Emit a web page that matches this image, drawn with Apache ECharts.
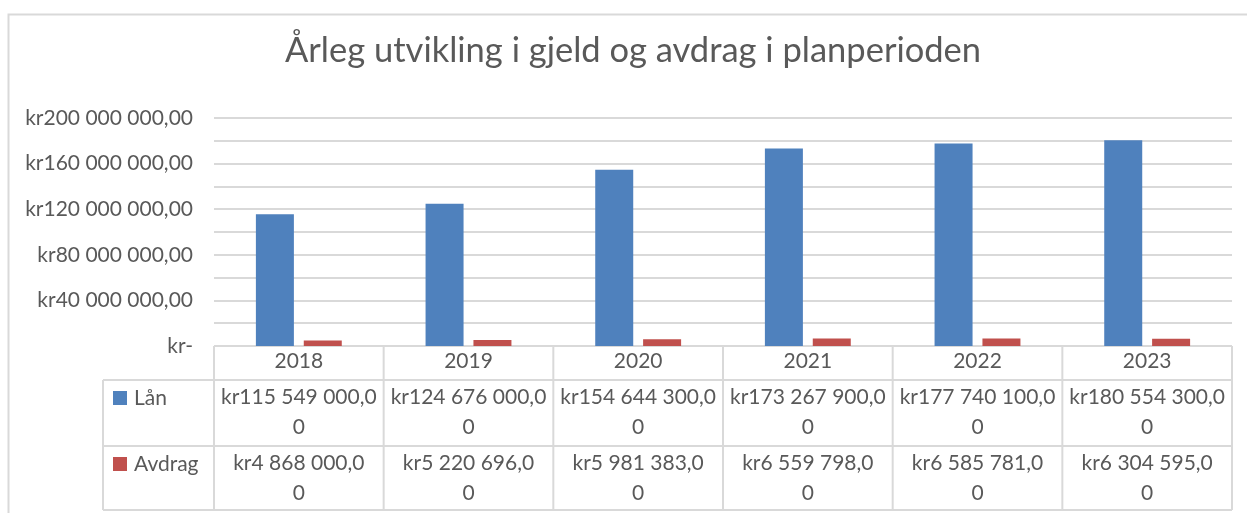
<!DOCTYPE html>
<html>
<head>
<meta charset="utf-8">
<title>Årleg utvikling i gjeld og avdrag</title>
<script src="https://cdn.jsdelivr.net/npm/echarts@6/dist/echarts.min.js"></script>
<style>
  html, body { margin: 0; padding: 0; background: #fff; }
  #chart { width: 1247px; height: 513px; }
</style>
</head>
<body>
<div id="chart"></div>
<script>
'use strict';

// data
const years = ['2018', '2019', '2020', '2021', '2022', '2023'];
const lan = [115549000, 124676000, 154644300, 173267900, 177740100, 180554300];
const avdrag = [4868000, 5220696, 5981383, 6559798, 6585781, 6304595];
const seriesNames = ['Lån', 'Avdrag'];
const colors = ['#4F81BD', '#C0504D'];

const FONT = 'Lato, "Noto Sans", sans-serif';
const TEXT = '#595959';
const LINE = '#D9D9D9';
const CELL_SIZE = 21;

// layout
const W = 1247;
const gridLeft = 214;
const gridRight = 15;
const gridTop = 118;
const gridBottomY = 346;
const legendLeft = 103;
const rowY = [346, 380, 446, 510];

/**
 * Excel style accounting text: kr115 549 000,00
 */
const kr = v => {
    if (v === 0) {
        return 'kr-';
    }
    const whole = Math.floor(v).toString().replace(/\B(?=(\d{3})+(?!\d))/g, ' ');
    return 'kr' + whole + ',00';
};

// table cells wrap before the last digit, as in the original
const cellText = v => {
    const s = kr(v);
    return s.slice(0, -1) + '\n' + s.slice(-1);
};

const buildTable = () => {
    const colW = (W - gridLeft - gridRight) / years.length;
    const right = gridLeft + colW * years.length;
    const els = [];
    const line = (x1, y1, x2, y2) => els.push({
        type: 'line',
        shape: { x1, y1, x2, y2 },
        style: { stroke: LINE, lineWidth: 2 },
        silent: true
    });

    // chart area border
    els.push({
        type: 'rect',
        shape: { x: 8.5, y: 14.5, width: W, height: 520 },
        style: { fill: null, stroke: LINE, lineWidth: 2 },
        silent: true
    });

    line(gridLeft, rowY[0], right, rowY[0]);
    for (let r = 1; r < rowY.length; r++) {
        line(legendLeft, rowY[r], right, rowY[r]);
    }
    line(legendLeft, rowY[1], legendLeft, rowY[3]);
    for (let c = 0; c <= years.length; c++) {
        const x = gridLeft + c * colW;
        line(x, rowY[0], x, rowY[3]);
    }

    [lan, avdrag].forEach((vals, r) => {
        const top = rowY[r + 1];
        els.push({
            type: 'rect',
            shape: { x: 113, y: top + 11, width: 14, height: 14 },
            style: { fill: colors[r] },
            silent: true
        });
        els.push({
            type: 'text',
            x: 134, y: top + 18,
            style: {
                text: seriesNames[r], fill: TEXT, font: CELL_SIZE + 'px ' + FONT,
                verticalAlign: 'middle'
            },
            silent: true
        });
        vals.forEach((v, c) => {
            els.push({
                type: 'text',
                x: gridLeft + (c + 0.5) * colW, y: top + 2,
                style: {
                    text: cellText(v), fill: TEXT, font: CELL_SIZE + 'px ' + FONT,
                    align: 'center', verticalAlign: 'top', lineHeight: 30
                },
                silent: true
            });
        });
    });
    return els;
};

const chart = echarts.init(document.getElementById('chart'));

chart.setOption({
    animation: false,
    backgroundColor: '#fff',
    title: {
        text: 'Årleg utvikling i gjeld og avdrag i planperioden',
        left: 280,
        top: 28,
        textStyle: { color: TEXT, fontFamily: FONT, fontSize: 34.5, fontWeight: 'normal' }
    },
    grid: {
        left: gridLeft,
        right: gridRight,
        top: gridTop,
        bottom: 513 - gridBottomY
    },
    xAxis: {
        type: 'category',
        data: years,
        axisLine: { show: false },
        axisTick: { show: false },
        axisLabel: { color: TEXT, fontFamily: FONT, fontSize: CELL_SIZE, margin: 5 }
    },
    yAxis: {
        type: 'value',
        min: 0,
        max: 200000000,
        interval: 20000000,
        axisLine: { show: false },
        axisTick: { show: false },
        splitLine: { lineStyle: { color: LINE, width: 2 } },
        axisLabel: {
            color: TEXT, fontFamily: FONT, fontSize: 21, margin: 21,
            formatter: v => (v % 40000000 === 0 ? kr(v) : '')
        }
    },
    series: [{
        name: seriesNames[0],
        type: 'bar',
        data: lan,
        barWidth: 38,
        barGap: '26%',
        itemStyle: { color: colors[0] }
    }, {
        name: seriesNames[1],
        type: 'bar',
        data: avdrag,
        barWidth: 38,
        itemStyle: { color: colors[1] }
    }],
    graphic: buildTable()
});
</script>
</body>
</html>
